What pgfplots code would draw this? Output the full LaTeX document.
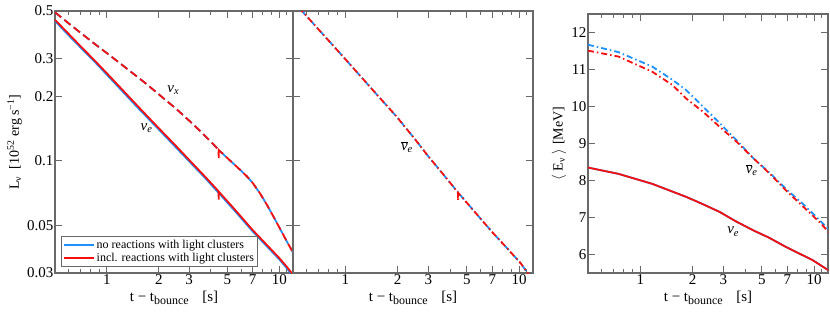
\documentclass[border=0pt]{standalone}
\usepackage{fontspec}
\setmainfont{Liberation Serif}
\usepackage{pgfplots}
\pgfplotsset{compat=1.18}
\definecolor{cblue}{RGB}{30,144,255}
\definecolor{cred}{RGB}{245,15,15}
\definecolor{fgray}{RGB}{105,105,105}
\pgfplotsset{every axis/.append style={
    scale only axis,
    axis line style={fgray, line width=1.3pt},
    tick style={fgray, line width=1pt},
    major tick length=7pt, minor tick length=4pt,
    tick align=inside,
    tick label style={font=\fontsize{15}{15}\selectfont, inner sep=1.5pt},
    xlabel style={font=\fontsize{15}{15}\selectfont, at={(axis description cs:0.5,0)}, anchor=base, yshift=-28pt},
    ylabel style={font=\fontsize{14}{14}\selectfont},
  }}
\tikzset{
  psol/.style={line width=1.8pt},
  pdsh/.style={line width=1.8pt, dash pattern=on 8pt off 4pt},
  pdd/.style={line width=1.8pt, dash pattern=on 6pt off 3pt on 1.5pt off 3pt},
  lab/.style={font=\fontsize{15}{15}\selectfont},
}
\newcommand{\xlab}{t − t\raisebox{-0.55ex}{\fontsize{12}{12}\selectfont bounce}\hspace{0.9em}[s]}
\newcommand{\nubar}{$\overline{\hbox{\textit{ν}}}$\textsubscript{\textit{e}}}
\begin{document}
\begin{tikzpicture}
\path[use as bounding box] (0pt,0pt) rectangle (830pt,314pt);
% ---------- panel 1 ----------
\begin{axis}[at={(55pt,41pt)}, anchor=south west, width=238pt, height=262pt,
  xmode=log, ymode=log, xmin=0.5, xmax=12, ymin=0.03, ymax=0.5,
  xtick={1,2,3,5,7,10}, xticklabels={1,2,3,5,7,10},
  minor xtick={0.6,0.7,0.8,0.9,4,6,8,9,11},
  ytick={0.03,0.05,0.1,0.2,0.3,0.5}, yticklabels={0.03,0.05,0.1,0.2,0.3,0.5},
  xlabel={\xlab},
  ylabel={L\textsubscript{ν}\hspace{0.5em}[10\textsuperscript{52} erg s\textsuperscript{−1}]},
  legend image code/.code={\draw[#1] (0pt,0pt) -- (30pt,0pt);},
  legend style={at={(rel axis cs:0.025,0.024)}, anchor=south west, draw=fgray, line width=1pt,
    font=\fontsize{12}{13}\selectfont, inner sep=1.5pt, row sep=-1pt},
  legend cell align=left]
\addlegendimage{cblue, line width=1.8pt}\addlegendentry{no reactions with light clusters}
\addlegendimage{cred, line width=1.8pt}\addlegendentry{incl. reactions with light clusters}
% nu_e, no clusters
\addplot[cblue, psol, forget plot] coordinates {(0.5,0.449) (0.6,0.385) (0.7,0.339) (0.852,0.289) (1,0.252) (1.5,0.178) (2,0.140) (2.5,0.116) (3,0.0995) (3.7,0.0834) (4.45,0.0708) (5.5,0.0586) (7,0.0469) (8.5,0.0398) (10,0.0347) (11,0.0317) (12,0.029)};
% nu_x, no clusters
\addplot[cblue, pdsh, forget plot] coordinates {(0.5,0.493) (0.6,0.438) (0.7,0.397) (0.85,0.351) (1,0.318) (1.3,0.27) (1.7,0.228) (2.08,0.199) (2.5,0.176) (3.11,0.150) (3.6,0.134) (4.25,0.117) (4.45,0.1125) (5,0.103) (5.42,0.097) (6,0.090) (6.5,0.0845) (7,0.079) (7.75,0.0703) (8.5,0.0621) (9.27,0.0548) (10.1,0.0482) (11,0.0424) (12,0.0374)};
% nu_e, incl. clusters
\addplot[cred, psol, forget plot] coordinates {(0.5,0.455) (0.6,0.391) (0.7,0.344) (0.852,0.293) (1,0.256) (1.5,0.181) (2,0.142) (2.5,0.118) (3,0.101) (3.7,0.0846) (4.44,0.0722) (4.45,0.066) (4.46,0.0718) (5.5,0.0595) (7,0.0476) (8.5,0.0404) (10,0.0352) (11,0.0322) (12,0.0295)};
% nu_x, incl. clusters
\addplot[cred, pdsh, forget plot] coordinates {(0.5,0.493) (0.6,0.438) (0.7,0.397) (0.85,0.351) (1,0.318) (1.3,0.27) (1.7,0.228) (2.08,0.199) (2.5,0.176) (3.11,0.150) (3.6,0.134) (4.25,0.117) (4.44,0.1127) (4.45,0.103) (4.46,0.1123) (5,0.103) (5.42,0.097) (6,0.090) (6.5,0.0845) (7,0.079) (7.75,0.0703) (8.5,0.0621) (9.27,0.0548) (10.1,0.0482) (11,0.0424) (12,0.0374)};
\node[lab] at (axis cs:2.43,0.214) {\textit{ν}\textsubscript{\textit{x}}};
\node[lab] at (axis cs:1.70,0.142) {\textit{ν}\textsubscript{\textit{e}}};
\end{axis}
% ---------- panel 2 ----------
\begin{axis}[at={(293pt,41pt)}, anchor=south west, width=240pt, height=262pt,
  xmode=log, ymode=log, xmin=0.5, xmax=12, ymin=0.03, ymax=0.5,
  xtick={1,2,3,5,7,10}, xticklabels={1,2,3,5,7,10},
  minor xtick={0.6,0.7,0.8,0.9,4,6,8,9,11},
  ytick={0.03,0.05,0.1,0.2,0.3,0.5}, yticklabels={},
  xlabel={\xlab}]
\addplot[cblue, pdd] coordinates {(0.5,0.56) (0.568,0.496) (0.7,0.411) (1,0.298) (1.5,0.206) (1.97,0.161) (2.5,0.127) (3,0.105) (3.7,0.0855) (4.45,0.0712) (5.5,0.0583) (7,0.0465) (8.5,0.0392) (10.2,0.0333) (11.17,0.030) (12,0.028)};
\addplot[cred, pdd, dash phase=4pt] coordinates {(0.5,0.56) (0.568,0.496) (0.7,0.411) (1,0.298) (1.5,0.206) (1.97,0.161) (2.5,0.127) (3,0.105) (3.7,0.0855) (4.44,0.0713) (4.45,0.0655) (4.46,0.0710) (5.5,0.0583) (7,0.0465) (8.5,0.0392) (10.2,0.0333) (11.17,0.030) (12,0.028)};
\node[lab] at (axis cs:2.26,0.116) {\nubar};
\end{axis}
% ---------- panel 3 ----------
\begin{axis}[at={(588pt,41pt)}, anchor=south west, width=240pt, height=259pt,
  xmode=log, xmin=0.5, xmax=12, ymin=5.5, ymax=12.5,
  xtick={1,2,3,5,7,10}, xticklabels={1,2,3,5,7,10},
  minor xtick={0.6,0.7,0.8,0.9,4,6,8,9,11},
  ytick={6,7,8,9,10,11,12}, yticklabels={6,7,8,9,10,11,12},
  xlabel={\xlab},
  ylabel={$\langle$ E\textsubscript{ν} $\rangle$ [MeV]}]
\addplot[cblue, pdd] coordinates {(0.5,11.67) (0.748,11.47) (1.17,11.08) (1.53,10.72) (1.83,10.45) (2.29,10.0) (2.86,9.55) (3.57,9.09) (4.47,8.60) (5.59,8.19) (6.99,7.74) (8.74,7.34) (10.93,6.89) (12.2,6.66)};
\addplot[cred, pdd] coordinates {(0.5,11.51) (0.748,11.35) (1.17,10.94) (1.53,10.58) (1.83,10.22) (2.29,9.86) (2.86,9.45) (3.57,9.05) (4.47,8.60) (5.59,8.17) (6.99,7.70) (8.74,7.27) (10.93,6.84) (12.2,6.58)};
\addplot[cblue, psol] coordinates {(0.5,8.35) (0.748,8.18) (1.17,7.91) (1.83,7.56) (2.24,7.38) (2.86,7.15) (3.5,6.91) (4.47,6.65) (5.47,6.46) (6.84,6.21) (9.77,5.85) (12.2,5.56)};
\addplot[cred, psol] coordinates {(0.5,8.35) (0.748,8.18) (1.17,7.91) (1.83,7.56) (2.24,7.38) (2.86,7.15) (3.5,6.91) (4.47,6.65) (5.47,6.46) (6.84,6.21) (9.77,5.85) (12.2,5.56)};
\node[lab] at (axis cs:4.37,8.28) {\nubar};
\node[lab] at (axis cs:3.42,6.62) {\textit{ν}\textsubscript{\textit{e}}};
\end{axis}
\end{tikzpicture}
\end{document}
